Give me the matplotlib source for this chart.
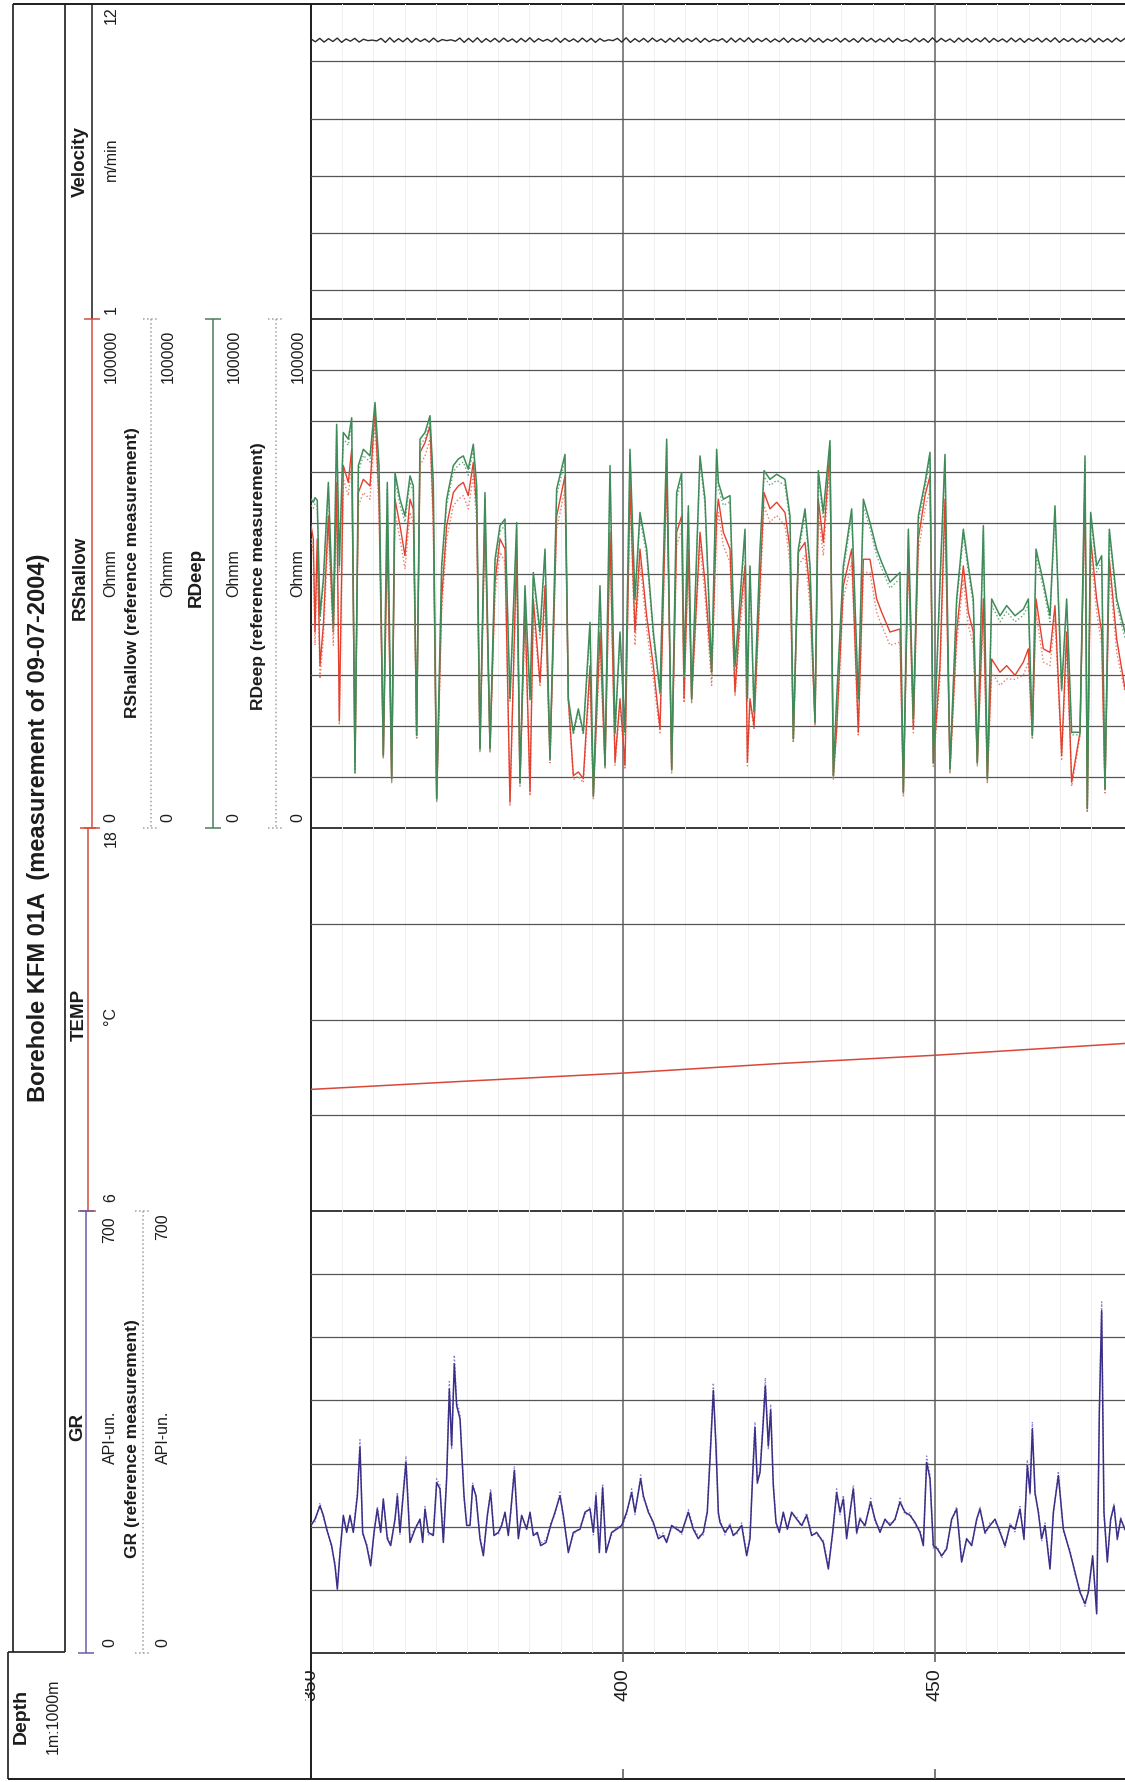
import numpy as np
import matplotlib
matplotlib.use('Agg')
import matplotlib.pyplot as plt

plt.rcParams['font.family'] = ['Liberation Sans', 'DejaVu Sans']

W, H = 1125, 1783
X_DATA = 311            # left edge of the log tracks, px
DEPTH_TOP, DEPTH_END = 350.0, 480.45

TITLE = 'Borehole KFM 01A  (measurement of 09-07-2004)'

# ---- velocity (m/min), regular samples along depth
vel_speed = [
    10.78, 10.68, 10.80, 10.67, 10.79, 10.69, 10.81, 10.66, 10.78, 10.70,
    10.80, 10.67, 10.77, 10.72, 10.74, 10.71, 10.80, 10.66, 10.82, 10.67,
    10.79, 10.68, 10.81, 10.66, 10.80, 10.69, 10.78, 10.67, 10.81, 10.68,
    10.76, 10.72, 10.75, 10.70, 10.81, 10.66, 10.80, 10.67, 10.82, 10.66,
    10.79, 10.68, 10.80, 10.67, 10.81, 10.69, 10.78, 10.66, 10.80, 10.68,
    10.82, 10.67, 10.79, 10.70, 10.77, 10.68, 10.81, 10.66, 10.80, 10.69,
    10.78, 10.67, 10.81, 10.68, 10.80, 10.66, 10.79, 10.70, 10.75, 10.72,
    10.80, 10.67, 10.82, 10.66, 10.79, 10.68, 10.80, 10.67, 10.81, 10.69,
    10.78, 10.66, 10.80, 10.68, 10.82, 10.67, 10.79, 10.69, 10.81, 10.66,
    10.80, 10.68, 10.77, 10.71, 10.79, 10.66, 10.81, 10.67, 10.80, 10.68,
    10.82, 10.66, 10.79, 10.69, 10.80, 10.67, 10.78, 10.68, 10.81, 10.66,
    10.80, 10.69, 10.79, 10.67, 10.82, 10.68, 10.80, 10.66, 10.78, 10.70,
    10.81, 10.67, 10.80, 10.68, 10.79, 10.66, 10.82, 10.69, 10.80, 10.67,
    10.78, 10.68, 10.81, 10.66, 10.80, 10.70, 10.76, 10.67, 10.81, 10.68,
    10.79, 10.66, 10.82, 10.67, 10.80, 10.69, 10.78, 10.66, 10.81, 10.68,
    10.80, 10.67, 10.79, 10.68, 10.82, 10.66, 10.80, 10.69, 10.78, 10.67,
    10.81, 10.68, 10.80, 10.66, 10.79, 10.70, 10.81, 10.67, 10.80, 10.68,
    10.82, 10.66, 10.79, 10.69, 10.80, 10.67, 10.78, 10.68, 10.81, 10.66,
    10.80, 10.68, 10.79, 10.67, 10.81, 10.69, 10.80,
]

# ---- temperature (deg C)
temp_depth = [350.0, 375.0, 400.0, 425.0, 450.0, 480.45]
temp_c = [9.81, 10.07, 10.32, 10.62, 10.88, 11.25]

# ---- resistivity, kOhmm
res_depth = [
    350.0, 350.37, 350.64, 351.0, 351.44, 351.98, 352.78, 353.58, 354.11, 354.54,
    355.18, 355.98, 356.52, 357.05, 357.59, 358.39, 359.46, 360.26, 360.9, 361.59,
    362.23, 362.93, 363.46, 364.26, 365.06, 365.87, 366.4, 366.93, 367.47, 368.27,
    369.07, 369.6, 370.14, 370.94, 371.74, 372.81, 373.61, 374.41, 375.21, 376.01,
    376.55, 377.08, 377.88, 378.69, 379.49, 380.29, 381.09, 381.89, 382.96, 383.49,
    384.29, 385.1, 385.63, 386.7, 387.5, 388.3, 389.37, 390.71, 391.24, 392.04,
    392.84, 393.64, 394.71, 395.25, 396.31, 397.12, 397.92, 398.72, 399.52, 400.32,
    401.12, 401.92, 402.72, 403.79, 404.86, 405.93, 407.0, 407.8, 408.6, 409.4,
    409.78, 410.47, 411.0, 412.34, 413.14, 414.21, 415.01, 415.28, 416.08, 417.15,
    417.95, 418.75, 419.55, 419.93, 420.35, 421.0, 421.96, 422.6, 423.56, 424.63,
    425.96, 426.76, 427.3, 428.1, 429.17, 429.97, 430.77, 431.3, 432.1, 433.17,
    433.71, 434.24, 435.31, 436.65, 437.71, 438.52, 439.58, 440.65, 441.45, 442.79,
    444.39, 444.93, 445.73, 446.53, 447.33, 448.4, 449.2, 449.73, 450.8, 451.6,
    452.4, 453.47, 454.54, 455.34, 456.14, 456.78, 457.75, 458.39, 459.08, 460.42,
    461.49, 462.82, 464.16, 464.96, 465.6, 466.19, 467.36, 468.43, 469.23, 470.3,
    471.1, 471.9, 473.24, 474.04, 474.41, 474.95, 475.91, 476.71, 477.24, 477.94,
    479.12, 480.45,
]
rdeep = [
    64.6, 64.0, 64.9, 64.4, 41.7, 48.9, 67.9, 39.8, 79.3, 51.5,
    77.7, 76.4, 80.6, 11.0, 71.2, 74.4, 73.1, 83.6, 71.2, 14.3,
    67.9, 9.7, 69.8, 64.6, 61.3, 69.2, 67.2, 18.2, 76.4, 77.7,
    81.0, 67.9, 5.8, 51.5, 64.6, 71.2, 72.5, 73.1, 70.5, 75.4,
    67.2, 15.6, 65.9, 15.6, 52.8, 59.4, 60.7, 25.4, 60.0, 9.0,
    47.6, 25.4, 50.2, 38.5, 54.8, 13.6, 66.6, 73.4, 25.4, 18.8,
    23.4, 18.8, 40.4, 6.4, 47.6, 12.3, 71.2, 18.8, 38.5, 18.8,
    74.4, 45.0, 62.0, 54.8, 38.5, 26.7, 76.4, 11.6, 65.9, 69.8,
    30.0, 63.3, 25.4, 73.1, 64.6, 30.6, 74.4, 67.9, 64.6, 65.3,
    31.9, 45.0, 58.7, 25.4, 51.5, 22.8, 54.8, 70.2, 68.5, 69.5,
    68.5, 61.3, 17.5, 54.8, 62.7, 51.5, 20.8, 70.2, 62.0, 76.1,
    10.3, 25.4, 51.5, 62.7, 25.4, 64.6, 60.0, 54.8, 52.2, 48.3,
    50.2, 7.1, 58.7, 21.5, 61.3, 67.9, 73.8, 12.9, 48.3, 73.4,
    11.6, 45.0, 58.7, 51.5, 45.0, 12.9, 59.4, 9.7, 45.0, 41.7,
    43.7, 41.7, 43.0, 45.0, 18.2, 54.8, 48.3, 41.7, 63.3, 27.3,
    45.0, 18.8, 18.8, 73.1, 3.8, 62.0, 51.5, 53.5, 7.7, 58.7,
    45.0, 38.5,
]
rdeep_ref = [
    63.4, 62.8, 63.7, 63.2, 40.5, 47.7, 66.7, 38.6, 78.1, 50.3,
    76.5, 75.2, 79.4, 10.5, 70.0, 73.2, 71.9, 82.4, 70.0, 13.8,
    66.7, 9.2, 68.6, 63.4, 60.1, 68.0, 66.0, 17.7, 75.2, 76.5,
    79.8, 66.7, 5.3, 50.3, 63.4, 70.0, 71.3, 71.9, 69.3, 74.2,
    66.0, 15.1, 64.7, 15.1, 51.6, 58.2, 59.5, 24.9, 58.8, 8.5,
    46.4, 24.9, 49.0, 37.3, 53.6, 13.1, 65.4, 72.2, 24.9, 18.3,
    22.9, 18.3, 39.2, 5.9, 46.4, 11.8, 70.0, 18.3, 37.3, 18.3,
    73.2, 43.8, 60.8, 53.6, 37.3, 26.2, 75.2, 11.1, 64.7, 68.6,
    29.5, 62.1, 24.9, 71.9, 63.4, 29.4, 73.2, 66.7, 63.4, 64.1,
    30.7, 43.8, 57.5, 24.9, 50.3, 22.3, 53.6, 69.0, 67.3, 68.3,
    67.3, 60.1, 17.0, 53.6, 61.5, 50.3, 20.3, 69.0, 60.8, 74.9,
    9.8, 24.9, 50.3, 61.5, 24.9, 63.4, 58.8, 53.6, 51.0, 47.1,
    49.0, 6.6, 57.5, 21.0, 60.1, 66.7, 72.6, 12.4, 47.1, 72.2,
    11.1, 43.8, 57.5, 50.3, 43.8, 12.4, 58.2, 9.2, 43.8, 40.5,
    42.5, 40.5, 41.8, 43.8, 17.7, 53.6, 47.1, 40.5, 62.1, 26.8,
    43.8, 18.3, 18.3, 71.9, 3.3, 60.8, 50.3, 52.3, 7.2, 57.5,
    43.8, 37.3,
]
rshallow = [
    59.4, 56.8, 38.5, 56.8, 31.9, 39.8, 61.3, 38.5, 67.9, 21.1,
    71.2, 67.9, 74.4, 12.9, 65.9, 68.5, 67.2, 82.3, 64.6, 14.3,
    58.1, 9.7, 64.6, 59.4, 53.5, 64.6, 62.6, 18.2, 73.8, 75.7,
    79.0, 61.3, 5.8, 45.0, 59.4, 65.9, 67.2, 67.9, 65.3, 71.8,
    62.6, 15.6, 61.3, 15.6, 48.3, 56.8, 54.8, 5.1, 54.8, 9.0,
    43.7, 7.1, 45.0, 28.6, 47.6, 13.6, 61.3, 69.2, 25.4, 10.3,
    11.0, 9.7, 31.9, 6.4, 38.5, 12.3, 58.1, 13.0, 25.4, 12.3,
    67.9, 38.5, 54.8, 41.7, 31.9, 19.5, 71.2, 11.6, 58.1, 61.3,
    25.4, 54.8, 25.4, 58.1, 48.3, 30.6, 61.3, 64.6, 58.1, 54.8,
    26.7, 41.7, 51.5, 13.0, 25.4, 20.1, 48.3, 65.9, 62.7, 64.0,
    62.0, 54.8, 17.5, 54.2, 56.1, 46.3, 20.8, 64.6, 56.1, 74.4,
    10.3, 19.5, 47.6, 54.8, 18.8, 52.8, 52.8, 45.0, 42.4, 38.5,
    39.1, 7.1, 54.8, 19.5, 56.8, 65.3, 69.2, 12.9, 31.9, 64.6,
    11.6, 38.5, 51.5, 42.4, 38.5, 12.9, 45.0, 9.7, 33.2, 30.6,
    31.9, 30.0, 32.6, 35.2, 18.2, 45.0, 35.2, 34.5, 43.7, 14.3,
    38.5, 9.0, 18.8, 67.9, 3.8, 56.8, 45.0, 38.5, 7.7, 52.8,
    37.1, 27.4,
]
rshallow_ref = [
    56.8, 54.2, 35.9, 54.2, 29.3, 37.2, 58.7, 35.9, 65.3, 20.3,
    68.6, 65.3, 71.8, 12.1, 63.3, 65.9, 64.6, 79.7, 62.0, 13.5,
    55.5, 8.9, 62.0, 56.8, 50.9, 62.0, 60.0, 17.4, 71.2, 73.1,
    76.4, 58.7, 5.0, 42.4, 56.8, 63.3, 64.6, 65.3, 62.7, 69.2,
    60.0, 14.8, 58.7, 14.8, 45.7, 54.2, 52.2, 4.3, 52.2, 8.2,
    41.1, 6.3, 42.4, 27.8, 45.0, 12.8, 58.7, 66.6, 24.6, 9.5,
    10.2, 8.9, 29.3, 5.6, 35.9, 11.5, 55.5, 12.2, 24.6, 11.5,
    65.3, 35.9, 52.2, 39.1, 29.3, 18.7, 68.6, 10.8, 55.5, 58.7,
    24.6, 52.2, 24.6, 55.5, 45.7, 28.0, 58.7, 62.0, 55.5, 52.2,
    25.9, 39.1, 48.9, 12.2, 24.6, 19.3, 45.7, 63.3, 60.1, 61.4,
    59.4, 52.2, 16.7, 51.6, 53.5, 43.7, 20.0, 62.0, 53.5, 71.8,
    9.5, 18.7, 45.0, 52.2, 18.0, 50.2, 50.2, 42.4, 39.8, 35.9,
    36.5, 6.3, 52.2, 18.7, 54.2, 62.7, 66.6, 12.1, 29.3, 62.0,
    10.8, 35.9, 48.9, 39.8, 35.9, 12.1, 42.4, 8.9, 30.6, 28.0,
    29.3, 29.2, 30.0, 32.6, 17.4, 42.4, 32.6, 31.9, 41.1, 13.5,
    35.9, 8.2, 18.0, 65.3, 3.0, 54.2, 42.4, 35.9, 6.9, 50.2,
    34.5, 26.6,
]

# ---- gamma ray, API units
gr_depth = [
    350.0, 350.64, 351.44, 351.98, 352.51, 353.31, 353.85, 354.22, 354.65, 355.18,
    355.72, 356.25, 356.78, 357.43, 357.85, 358.28, 358.92, 359.56, 360.1, 360.63,
    361.17, 361.59, 362.23, 362.77, 363.46, 363.84, 364.26, 364.8, 365.22, 365.87,
    366.67, 367.47, 367.9, 368.27, 368.8, 369.6, 370.14, 370.67, 371.21, 371.74,
    372.17, 372.54, 372.97, 373.34, 373.88, 374.52, 374.95, 375.48, 375.91, 376.44,
    377.08, 377.62, 378.26, 378.79, 379.33, 380.02, 380.56, 381.09, 381.62, 382.0,
    382.59, 383.23, 383.76, 384.56, 385.1, 385.63, 386.27, 386.81, 387.66, 388.41,
    389.1, 389.9, 390.44, 391.24, 392.04, 393.11, 393.91, 394.71, 395.25, 395.67,
    396.21, 396.74, 397.28, 398.18, 398.98, 399.79, 400.59, 401.39, 401.92, 402.83,
    403.26, 404.06, 404.86, 405.66, 406.46, 406.99, 407.8, 408.6, 409.4, 410.47,
    411.27, 412.07, 412.87, 413.51, 414.05, 414.48, 414.9, 415.28, 415.54, 416.35,
    417.15, 417.68, 418.22, 419.02, 419.82, 420.35, 420.78, 421.15, 421.53, 421.96,
    422.38, 422.81, 423.29, 423.67, 424.09, 424.52, 425.05, 425.69, 426.34, 427.03,
    427.83, 428.63, 429.43, 430.24, 431.04, 432.1, 432.91, 433.6, 434.24, 434.78,
    435.31, 435.84, 436.38, 436.91, 437.45, 437.98, 438.78, 439.69, 440.38, 441.19,
    441.99, 442.79, 443.59, 444.39, 445.19, 445.99, 446.79, 447.6, 448.13, 448.66,
    449.2, 449.73, 450.37, 451.07, 451.87, 452.67, 453.47, 454.27, 455.07, 455.88,
    456.68, 457.21, 458.01, 458.81, 459.62, 460.42, 461.22, 462.02, 462.82, 463.62,
    464.26, 464.8, 465.23, 465.6, 466.03, 466.56, 467.09, 467.63, 468.43, 468.97,
    469.77, 470.57, 471.64, 472.44, 473.24, 474.04, 474.57, 475.27, 475.91, 476.34,
    476.71, 477.08, 477.62, 478.15, 478.69, 479.22, 479.76, 480.45,
]
gr_api = [
    202, 212, 233, 218, 196, 170, 138, 101, 159, 218,
    191, 218, 191, 249, 326, 191, 170, 138, 191, 228,
    191, 244, 181, 170, 212, 249, 191, 254, 302, 175,
    196, 212, 175, 228, 191, 186, 270, 260, 175, 276,
    418, 328, 458, 392, 371, 249, 202, 202, 265, 249,
    181, 154, 218, 254, 186, 191, 202, 223, 186, 223,
    289, 181, 218, 196, 223, 186, 191, 170, 175, 202,
    223, 249, 218, 159, 191, 196, 223, 228, 191, 249,
    159, 262, 159, 191, 196, 202, 223, 254, 223, 276,
    249, 223, 207, 181, 186, 175, 202, 196, 191, 223,
    196, 181, 191, 223, 328, 416, 328, 223, 207, 191,
    202, 186, 191, 202, 154, 181, 281, 357, 270, 286,
    350, 423, 328, 385, 265, 207, 191, 223, 196, 223,
    212, 202, 218, 186, 191, 175, 133, 191, 254, 223,
    244, 181, 223, 260, 191, 212, 202, 239, 212, 191,
    212, 202, 212, 239, 223, 218, 207, 191, 170, 302,
    276, 170, 165, 154, 165, 212, 228, 144, 181, 170,
    212, 228, 191, 202, 212, 191, 170, 202, 196, 228,
    181, 297, 254, 355, 254, 223, 181, 202, 133, 223,
    281, 196, 159, 128, 96, 78, 96, 154, 62, 381,
    542, 223, 144, 212, 233, 181, 212, 196,
]
gr_ref_api = [
    206, 208, 238, 214, 200, 166, 142, 105, 163, 214,
    195, 214, 195, 255, 338, 187, 174, 142, 187, 232,
    195, 240, 185, 174, 208, 255, 187, 260, 312, 179,
    200, 208, 180, 232, 187, 190, 276, 266, 179, 282,
    430, 322, 472, 400, 378, 245, 206, 198, 270, 245,
    185, 158, 214, 260, 190, 187, 206, 219, 190, 219,
    296, 185, 214, 200, 219, 190, 187, 174, 179, 206,
    219, 255, 214, 163, 187, 200, 219, 232, 187, 255,
    163, 268, 163, 187, 200, 198, 219, 260, 219, 282,
    245, 227, 203, 185, 190, 179, 198, 200, 187, 227,
    200, 185, 187, 227, 336, 428, 322, 219, 211, 187,
    206, 190, 187, 206, 158, 185, 288, 366, 266, 292,
    358, 436, 322, 394, 270, 203, 195, 219, 200, 219,
    216, 198, 222, 190, 187, 179, 138, 187, 260, 219,
    250, 185, 219, 266, 187, 216, 198, 245, 208, 195,
    208, 206, 208, 245, 219, 222, 203, 195, 174, 312,
    282, 166, 169, 150, 169, 208, 232, 148, 177, 174,
    208, 232, 187, 206, 208, 195, 166, 206, 192, 232,
    177, 306, 250, 366, 250, 227, 177, 206, 138, 219,
    288, 192, 163, 124, 100, 74, 100, 150, 66, 392,
    556, 219, 148, 208, 237, 177, 216, 192,
]

depth_labels = [350, 400, 450]

RED = '#e3412f'
RED_REF = '#ec7a68'
GREEN = '#3f8c5a'
GREEN_REF = '#6aa67c'
PURPLE = '#3a2f86'
PURPLE_REF = '#8a7fc8'
INK = '#1c1c1c'

fig = plt.figure(figsize=(W / 100, H / 100), dpi=100)


def px_axes(x0, y0, x1, y1):
    return fig.add_axes([x0 / W, 1 - y1 / H, (x1 - x0) / W, (y1 - y0) / H])


# header / frame layer in pixel coordinates
hdr = px_axes(0, 0, W, H)
hdr.set_xlim(0, W)
hdr.set_ylim(H, 0)
hdr.axis('off')


def hline(x0, x1, y, color=INK, lw=1.2, ls='-'):
    hdr.plot([x0, x1], [y, y], color=color, lw=lw, ls=ls, solid_capstyle='butt')


def vline(x, y0, y1, color=INK, lw=1.2, ls='-'):
    hdr.plot([x, x], [y0, y1], color=color, lw=lw, ls=ls, solid_capstyle='butt')


def vtext(x, y, s, size=11.5, weight='normal'):
    hdr.text(x, y, s, rotation=90, ha='center', va='center',
             fontsize=size, fontweight=weight, color=INK)


def scale_bar(x, y0, y1, color, ls='-'):
    vline(x, y0, y1, color=color, lw=1.1, ls=ls)
    hline(x - 8, x + 8, y0, color=color, lw=1.1, ls=ls)
    hline(x - 8, x + 8, y1, color=color, lw=1.1, ls=ls)


# frame
hline(13, W, 5, lw=1.4)
vline(13, 5, 1653)
vline(65, 5, 1653)
hline(8, 65, 1653)
vline(8, 1653, 1780)
hline(8, W, 1780, lw=1.4)
vline(X_DATA, 5, 1780, lw=1.4)
for yb in (320, 829, 1212, 1654):
    hline(X_DATA, W, yb, color='#2a2a2a', lw=1.3)

vtext(39, 828, TITLE, 17, 'bold')

# velocity header
vline(92, 5, 320, color=INK, lw=1.1)
vtext(80, 162, 'Velocity', 13.5, 'bold')
vtext(111, 159, 'm/min')
vtext(111, 15, '12')
vtext(111, 310, '1')

# RShallow header
scale_bar(92, 320, 829, '#d2503e')
vtext(80, 578, 'RShallow', 13.5, 'bold')
vtext(111, 356, '100000')
vtext(111, 573, 'Ohmm')
vtext(111, 818, '0')
vtext(133, 573, 'RShallow (reference measurement)', 12.5, 'bold')
scale_bar(151, 320, 829, '#a0a0a0', ls=':')
vtext(168, 356, '100000')
vtext(168, 573, 'Ohmm')
vtext(168, 818, '0')

# RDeep header
vtext(196, 577, 'RDeep', 13.5, 'bold')
scale_bar(213, 320, 829, '#4a7d5c')
vtext(234, 356, '100000')
vtext(234, 573, 'Ohmm')
vtext(234, 818, '0')
vtext(259, 576, 'RDeep (reference measurement)', 12.5, 'bold')
scale_bar(276, 320, 829, '#a0a0a0', ls=':')
vtext(298, 356, '100000')
vtext(298, 573, 'Ohmm')
vtext(298, 818, '0')

# TEMP header
scale_bar(88, 829, 1212, '#d2503e')
vtext(79, 1015, 'TEMP', 13.5, 'bold')
vtext(111, 1016, '°C')
vtext(111, 838, '18')
vtext(111, 1198, '6')

# GR header
scale_bar(86, 1212, 1654, '#6c5ca8')
vtext(78, 1427, 'GR', 13.5, 'bold')
vtext(110, 1437, 'API-un.')
vtext(110, 1230, '700')
vtext(110, 1643, '0')
vtext(133, 1439, 'GR (reference measurement)', 12.5, 'bold')
scale_bar(143, 1212, 1654, '#a0a0a0', ls=':')
vtext(163, 1227, '700')
vtext(163, 1437, 'API-un.')
vtext(163, 1643, '0')

# depth box
vtext(21, 1716, 'Depth', 14, 'bold')
vtext(53, 1716, '1m:1000m', 11.5)

minor_depths = [d for d in np.arange(355, 480, 5) if d % 50 != 0]
major_depths = [400, 450]


def track(y0, y1, lo, hi, hgrid):
    ax = px_axes(X_DATA, y0, W, y1)
    ax.set_xlim(DEPTH_TOP, DEPTH_END)
    ax.set_ylim(lo, hi)
    ax.set_xticks([])
    ax.set_yticks([])
    ax.patch.set_visible(False)
    for s in ax.spines.values():
        s.set_visible(False)
    for d in minor_depths:
        ax.axvline(d, color='#f0f0f0', lw=0.7, zorder=0)
    for d in major_depths:
        ax.axvline(d, color='#6e6e6e', lw=1.2, zorder=1)
    for v in hgrid:
        ax.axhline(v, color='#555555', lw=0.9, zorder=1)
    return ax


ax_vel = track(5, 320, 1, 12, [2, 4, 6, 8, 10])
vel_depth = np.linspace(DEPTH_TOP, DEPTH_END, len(vel_speed))
ax_vel.plot(vel_depth, vel_speed, color='#2b2b2b', lw=1.0)

ax_res = track(320, 829, 0, 100000, np.arange(10000, 100000, 10000))
rd = np.array(res_depth)
ax_res.plot(rd, np.array(rshallow_ref) * 1000, color=RED_REF, lw=1.0, ls=':')
ax_res.plot(rd, np.array(rshallow) * 1000, color=RED, lw=1.0)
ax_res.plot(rd, np.array(rdeep_ref) * 1000, color=GREEN_REF, lw=1.0, ls=':')
ax_res.plot(rd, np.array(rdeep) * 1000, color=GREEN, lw=1.1)

ax_tmp = track(829, 1212, 6, 18, [9, 12, 15])
ax_tmp.plot(temp_depth, temp_c, color='#d8473a', lw=1.1)

ax_gr = track(1212, 1654, 0, 700, np.arange(100, 700, 100))
ax_gr.plot(gr_depth, gr_ref_api, color=PURPLE_REF, lw=1.0, ls=':')
ax_gr.plot(gr_depth, gr_api, color=PURPLE, lw=1.1)

# depth annotation strip
ax_dep = px_axes(305, 1654, W, 1780)
ax_dep.set_xlim(DEPTH_TOP - 6 / 6.24, DEPTH_END)
ax_dep.set_ylim(0, 1)
ax_dep.axis('off')
for d in depth_labels:
    ax_dep.text(d, 0.754, str(d), rotation=90, ha='center', va='center',
                fontsize=14, color=INK, clip_on=True)
ax_dep.vlines(major_depths, 0.93, 1.0, color='#555555', lw=1.1)
ax_dep.vlines(major_depths, 0.0, 0.08, color='#555555', lw=1.1)

fig.savefig('out.png', dpi=100)
